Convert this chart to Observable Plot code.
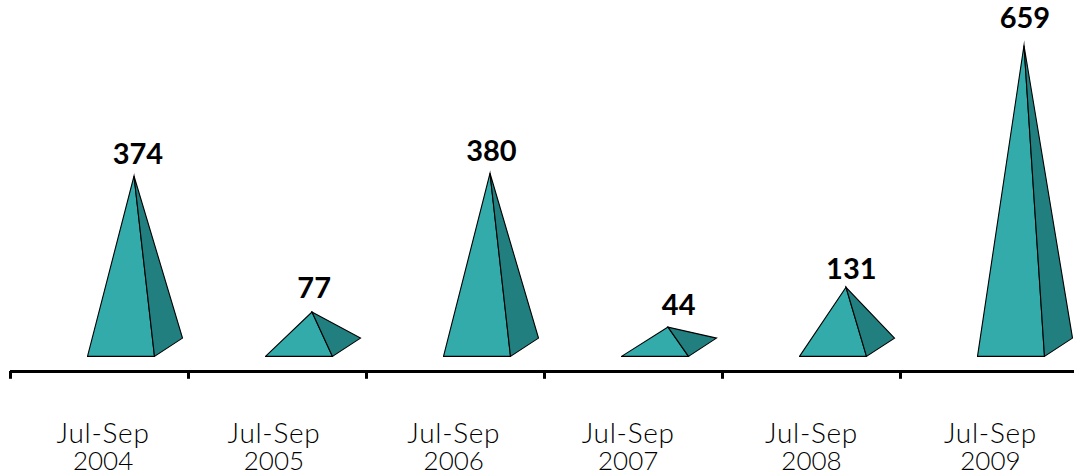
<!DOCTYPE html>
<html>
<head>
<meta charset="utf-8">
<style>html,body{margin:0;padding:0;background:#fff}</style>
<script src="https://cdn.jsdelivr.net/npm/d3@7"></script>
<script src="https://cdn.jsdelivr.net/npm/@observablehq/plot@0.6"></script>
</head>
<body>
<div id="chart"></div>
<script>
const quarters = ["Jul-Sep", "Jul-Sep", "Jul-Sep", "Jul-Sep", "Jul-Sep", "Jul-Sep"];
const years = ["2004", "2005", "2006", "2007", "2008", "2009"];
const values = [374, 77, 380, 44, 131, 659];

// Pyramid shape in scale units (x: one period = 1; y: same units as the values)
const leftInset = 0.4326, frontWidth = 0.3764, depthX = 0.1573, apexInset = 0.2612, depthY = 20;
const axisY = -53, tickY = -70, quarterY = -210, yearY = -267;
// Hand-placed labels in the reference sit slightly off-centre (in scale units)
const categoryNudge = [0.02, -0.02, -0.01, -0.03, 0, 0.005];
const valueNudgeX = [0.022, 0.012, 0.008, 0.06, 0.03, 0.005];
const valueNudgeY = [0, 4, 0, 0, -9, 11];

const front = [], side = [];
values.forEach((v, i) => {
  const l = i + leftInset, r = l + frontWidth, a = l + apexInset;
  for (const [x, y] of [[l, -depthY], [r, -depthY], [a, v], [l, -depthY]]) front.push({i, x, y});
  for (const [x, y] of [[r, -depthY], [r + depthX, depthY], [a, v], [r, -depthY]]) side.push({i, x, y});
});
const rows = values.map((v, i) => ({
  i, v,
  ax: i + leftInset + apexInset + valueNudgeX[i],
  ay: v + valueNudgeY[i],
  cx: i + 0.5 + categoryNudge[i],
  quarter: quarters[i],
  year: years[i]
}));
const edges = d3.range(0, 7);

const polygon = (data, fill) => Plot.line(data, {
  x: "x", y: "y", z: "i", fill, stroke: "#000", strokeWidth: 1.1,
  strokeLinejoin: "miter", strokeMiterlimit: 10, curve: "linear"
});

const chart = Plot.plot({
  width: 1074, height: 475,
  marginTop: 0, marginRight: 0, marginBottom: 0, marginLeft: 0,
  x: {type: "linear", domain: [0, 6], range: [10, 1078], axis: null},
  y: {type: "linear", domain: [0, 659], range: [346.75, 45], axis: null},
  style: {background: "#fff", fontFamily: "Lato, sans-serif"},
  marks: [
    polygon(front, "#33abab"),
    polygon(side, "#227f7f"),
    Plot.ruleY([axisY], {x1: 0, x2: 6, stroke: "#000", strokeWidth: 3}),
    Plot.ruleX(edges, {y1: axisY, y2: tickY, stroke: "#000", strokeWidth: 3}),
    Plot.text(rows, {
      x: "ax", y: "ay", text: d => String(d.v), dy: -12, lineAnchor: "bottom",
      fontSize: 29, fontWeight: 700, fill: "#000"
    }),
    Plot.text(rows, {
      x: "cx", y: () => quarterY, text: "quarter", lineAnchor: "bottom",
      fontSize: 28, fontWeight: 300, fill: "#000",
      render(index, scales, values, dimensions, context, next) {
        const g = next(index, scales, values, dimensions, context);
        g.style.letterSpacing = "0.7px";
        return g;
      }
    }),
    Plot.text(rows, {
      x: "cx", y: () => yearY, text: "year", lineAnchor: "bottom",
      fontSize: 26, fontWeight: 300, fill: "#000"
    })
  ]
});
document.getElementById("chart").appendChild(chart);
</script>
</body>
</html>
